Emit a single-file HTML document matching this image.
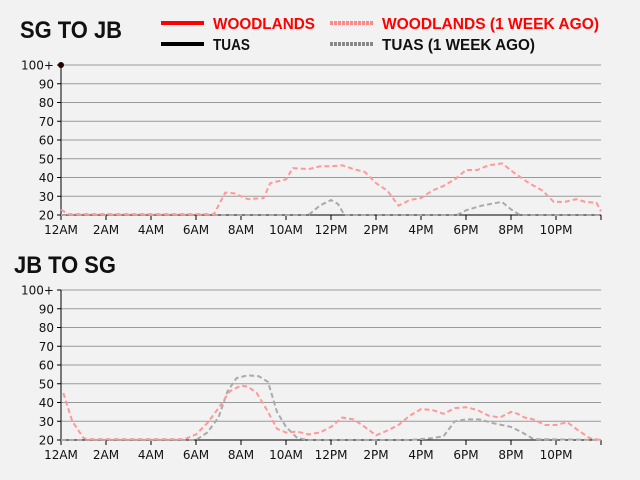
<!DOCTYPE html>
<html><head><meta charset="utf-8"><style>
html,body{margin:0;padding:0;background:#f2f2f2;}
svg{display:block;font-family:"DejaVu Sans","Liberation Sans",sans-serif;}
.t{font-family:"Liberation Sans",sans-serif;font-weight:bold;}
</style></head><body>
<svg id="s" width="640" height="480" viewBox="0 0 640 480">
<text class="t" x="20" y="38" font-size="24" fill="#111" textLength="102" lengthAdjust="spacingAndGlyphs">SG TO JB</text>
<text class="t" x="14" y="273" font-size="24" fill="#111" textLength="102" lengthAdjust="spacingAndGlyphs">JB TO SG</text>
<line x1="161" y1="23" x2="204" y2="23" stroke="#f00" stroke-width="4"/>
<text class="t" x="213" y="29" font-size="16" fill="#f00" textLength="102" lengthAdjust="spacingAndGlyphs">WOODLANDS</text>
<line x1="330" y1="23" x2="373" y2="23" stroke="#f88" stroke-width="4" stroke-dasharray="3,1"/>
<text class="t" x="382" y="29" font-size="16" fill="#f00" textLength="217" lengthAdjust="spacingAndGlyphs">WOODLANDS (1 WEEK AGO)</text>
<line x1="161" y1="44" x2="204" y2="44" stroke="#000" stroke-width="4"/>
<text class="t" x="213" y="50" font-size="16" fill="#111" textLength="37" lengthAdjust="spacingAndGlyphs">TUAS</text>
<line x1="330" y1="44" x2="373" y2="44" stroke="#888" stroke-width="4" stroke-dasharray="3,1"/>
<text class="t" x="382" y="50" font-size="16" fill="#111" textLength="153" lengthAdjust="spacingAndGlyphs">TUAS (1 WEEK AGO)</text>
<g id="g"></g>
</svg>
<script>
var NS="http://www.w3.org/2000/svg",g=document.getElementById("g");
function el(n,a,t){var e=document.createElementNS(NS,n);for(var k in a)e.setAttribute(k,a[k]);if(t)e.textContent=t;g.appendChild(e);return e;}
function chart(top,series){
  var bot=top+150;
  for(var v=20;v<=100;v+=10){var y=bot-(v-20)*150/80;
    if(v>20)el("line",{x1:61,x2:601,y1:y,y2:y,stroke:"#999","stroke-width":1});
    el("line",{x1:57,x2:61,y1:y,y2:y,stroke:"#000"});
    el("text",{x:54,y:y+4.5,"font-size":12,"text-anchor":"end",fill:"#111"},v==100?"100+":""+v);}
  el("line",{x1:61,x2:61,y1:top,y2:bot,stroke:"#000"});
  el("line",{x1:61,x2:601,y1:bot,y2:bot,stroke:"#000"});
  var lab=["12AM","2AM","4AM","6AM","8AM","10AM","12PM","2PM","4PM","6PM","8PM","10PM"];
  for(var i=0;i<=12;i++){var x=61+i*45;el("line",{x1:x,x2:x,y1:bot,y2:bot+5,stroke:"#000"});
    if(i<12)el("text",{x:x,y:bot+19,"font-size":12,"text-anchor":"middle",fill:"#111"},lab[i]);}
  series.forEach(function(s){var d=s.p.map(function(p,i){return(i?"L":"M")+(61+p[0]*22.5).toFixed(1)+","+(bot-(p[1]-20)*150/80).toFixed(1);}).join("");
    el("path",{d:d,fill:"none",stroke:s.c,"stroke-width":2,"stroke-dasharray":"5,3","stroke-linejoin":"round"});});
}
chart(65,[
 {c:"#aaa",p:[[0,20],[11,20],[11.5,25],[12,28],[12.3,26],[12.6,20],[17.6,20],[18,22.5],[18.7,25],[19.6,27],[20,23],[20.4,20],[24,20]]},
 {c:"#f99",p:[[0,23],[0.3,20.5],[6.8,20.5],[7.3,32],[7.7,31.5],[8.3,28.5],[9,29],[9.3,37],[10,39],[10.3,45],[11,44.5],[11.5,46],[12,46],[12.5,46.5],[13,44.5],[13.5,43],[14,37],[14.5,33],[15,25],[15.5,28],[16,29],[16.5,33],[17,35.5],[17.5,39],[18,44],[18.5,44],[19,46.5],[19.6,47.5],[20.2,42],[20.8,37],[21.4,33],[21.9,27],[22.4,27],[22.9,28.5],[23.3,27],[23.8,26.5],[24,22]]}
]);
el("circle",{cx:61,cy:65,r:3,fill:"#200"});
chart(290,[
 {c:"#aaa",p:[[0,20],[6,20],[6.5,24],[7,32],[7.4,46],[7.8,53],[8.3,54.5],[8.8,54],[9.2,51],[9.6,35],[10,27],[10.5,21],[11,20],[15.5,20],[16.5,21],[17,22],[17.5,30],[18,31],[18.6,31],[19.2,29],[19.6,28],[20,27],[20.5,24],[21,20.5],[24,20]]},
 {c:"#f99",p:[[0.1,45],[0.5,30],[1,21],[1.2,20.5],[5.5,20.5],[6,23],[6.5,29],[7,37],[7.5,46],[8,49],[8.3,48.5],[8.7,45],[9.2,35],[9.6,26],[10,24],[10.5,24.5],[11,23],[11.5,24],[12,27],[12.5,32],[13,31],[13.5,27],[14,22.5],[14.5,25],[15,28],[15.5,33],[16,36.5],[16.5,36],[17,34],[17.5,37],[18,37.5],[18.5,36],[19,33],[19.5,32],[20,35],[20.3,34],[20.6,32],[21,31],[21.5,28],[22,28],[22.5,29.5],[23,25],[23.5,21],[24,20]]}
]);
</script>
</body></html>
